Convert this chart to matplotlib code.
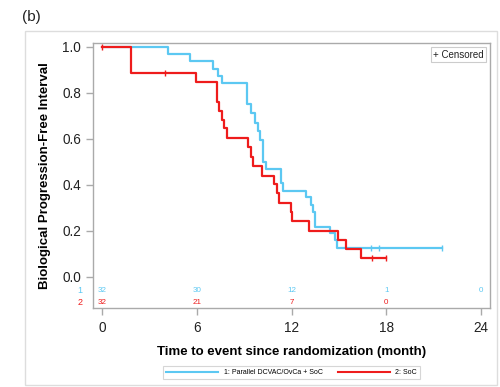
import matplotlib
matplotlib.use("Agg")
import matplotlib.pyplot as plt
from matplotlib.lines import Line2D
from matplotlib.patches import Rectangle

plt.rcParams['font.family'] = ['Liberation Sans', 'DejaVu Sans']

# Arm 1: Parallel DCVAC/OvCa + SoC
t1 = [0, 4.2, 5.57, 7.0, 7.36, 7.57, 9.18, 9.42, 9.67, 9.86, 10.0, 10.17, 10.35,
      11.3, 11.43, 12.91, 13.23, 13.33, 13.48, 14.45, 14.78, 14.9, 21.5]
s1 = [1.0, 0.969, 0.937, 0.906, 0.875, 0.844, 0.75, 0.713, 0.67, 0.635, 0.595, 0.50, 0.47,
      0.41, 0.375, 0.346, 0.313, 0.284, 0.219, 0.19, 0.16, 0.125, 0.125]
c1_t = [17.0, 17.55, 21.5]
c1_s = [0.125, 0.125, 0.125]

# Arm 2: SoC
t2 = [0, 1.84, 5.95, 7.3, 7.42, 7.6, 7.74, 7.89, 9.26, 9.4, 9.53, 10.1, 10.89,
      11.06, 11.22, 11.96, 12.03, 13.1, 14.96, 15.45, 16.39, 18.0]
s2 = [1.0, 0.885, 0.846, 0.762, 0.72, 0.683, 0.647, 0.604, 0.564, 0.523, 0.483, 0.441, 0.403,
      0.364, 0.323, 0.283, 0.243, 0.202, 0.162, 0.121, 0.081, 0.081]
c2_t = [0.0, 4.0, 17.07, 17.97]
c2_s = [1.0, 0.885, 0.081, 0.081]

risk_times = [0, 6, 12, 18, 24]
risk1 = ["32", "30", "12", "1", "0"]
risk2 = ["32", "21", "7", "0"]

xticks = [0, 6, 12, 18, 24]
yticks = [0.0, 0.2, 0.4, 0.6, 0.8, 1.0]

blue = "#5CC8F2"
red = "#EE1C1C"
gray = "#AAAAAA"

fig = plt.figure(figsize=(5, 3.87), dpi=100)
ax = fig.add_axes([0.186, 0.204, 0.794, 0.685])

ax.step(t1, s1, where='post', color=blue, lw=1.6)
ax.step(t2, s2, where='post', color=red, lw=1.6)
ax.plot(c1_t, c1_s, ls='none', marker='|', ms=5, mew=1.0, color=blue)
ax.plot(c2_t, c2_s, ls='none', marker='|', ms=5, mew=1.0, color=red)

ax.set_xlim(-0.57, 24.56)
ax.set_ylim(-0.135, 1.017)
ax.set_xticks(xticks)
ax.set_yticks(yticks)
ax.set_yticklabels([f"{v:.1f}" for v in yticks])
ax.tick_params(axis='both', colors=gray, labelcolor='#222222', labelsize=9.8, length=5, width=1)
ax.tick_params(axis='x', pad=4)
for sp in ax.spines.values():
    sp.set_color(gray)
    sp.set_linewidth(1)

ax.set_ylabel("Biological Progression-Free Interval", fontsize=9.5, fontweight='bold', labelpad=8)
ax.set_xlabel("Time to event since randomization (month)", fontsize=9.5, fontweight='bold', labelpad=8)

for t, n in zip(risk_times, risk1):
    ax.text(t, -0.06, n, color=blue, fontsize=5.8, ha='center', va='center')
for t, n in zip(risk_times, risk2):
    ax.text(t, -0.11, n, color=red, fontsize=5.8, ha='center', va='center')
ax.text(-1.39, -0.06, "1", color=blue, fontsize=6.5, ha='center', va='center', clip_on=False)
ax.text(-1.39, -0.11, "2", color=red, fontsize=6.5, ha='center', va='center', clip_on=False)

ax.text(0.985, 0.975, "+ Censored", transform=ax.transAxes, ha='right', va='top', fontsize=7,
        color='#222222',
        bbox=dict(boxstyle='square,pad=0.25', fc='white', ec='#CCCCCC', lw=0.8))

handles = [Line2D([], [], color=blue, lw=1.5), Line2D([], [], color=red, lw=1.5)]
leg = fig.legend(handles, ["1: Parallel DCVAC/OvCa + SoC", "2: SoC"], loc='center',
                 bbox_to_anchor=(0.583, 0.037), ncol=2, fontsize=5, frameon=True,
                 fancybox=False, edgecolor='#CCCCCC', handlelength=7.5, columnspacing=2.2,
                 borderpad=0.4, handletextpad=0.8)
leg.get_frame().set_linewidth(0.8)

fig.patches.append(Rectangle((0.05, 0.005), 0.944, 0.915, transform=fig.transFigure,
                             fill=False, ec='#DDDDDD', lw=1))
fig.text(0.044, 0.955, "(b)", fontsize=11, ha='left', va='center', color='#222222')

fig.savefig("out.png", dpi=100)
